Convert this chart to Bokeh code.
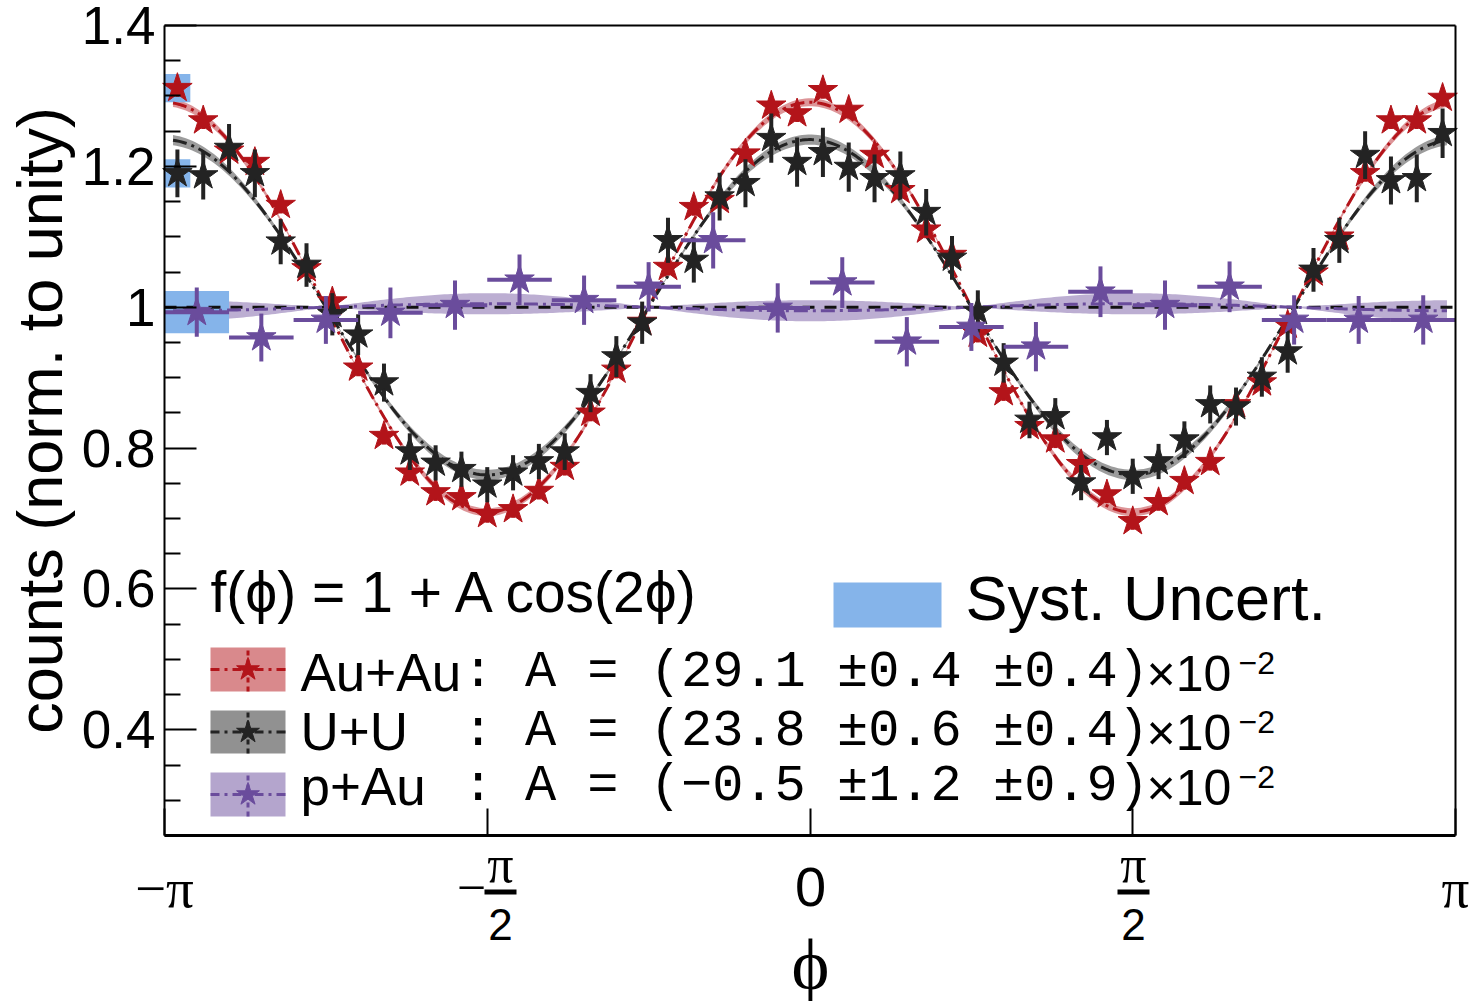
import numpy as np
from bokeh.plotting import figure
from bokeh.models import Range1d, FixedTicker, Label, BoxAnnotation, LinearAxis
from bokeh.embed import file_html
from bokeh.resources import INLINE

PI = np.pi

# ---------------- data ----------------
auau_y = [1.311, 1.265, 1.222, 1.206, 1.145, 1.055, 1.008, 0.914, 0.817, 0.765,
          0.737, 0.730, 0.706, 0.713, 0.739, 0.773, 0.850, 0.911, 0.979, 1.057,
          1.142, 1.152, 1.218, 1.286, 1.275, 1.308, 1.280, 1.216, 1.166, 1.110,
          1.074, 0.962, 0.879, 0.831, 0.812, 0.777, 0.734, 0.696, 0.723, 0.753,
          0.780, 0.862, 0.893, 0.975, 1.049, 1.100, 1.190, 1.265, 1.265, 1.297]
auau_err = [0.012] * 50
uu_y = [1.190, 1.187, 1.226, 1.190, 1.093, 1.060, 0.990, 0.961, 0.893, 0.795,
        0.779, 0.770, 0.748, 0.765, 0.781, 0.795, 0.878, 0.930, 0.978, 1.095,
        1.067, 1.157, 1.176, 1.240, 1.206, 1.220, 1.199, 1.183, 1.187, 1.135,
        1.070, 0.994, 0.921, 0.840, 0.845, 0.751, 0.815, 0.760, 0.781, 0.812,
        0.862, 0.859, 0.901, 0.937, 1.053, 1.095, 1.216, 1.180, 1.183, 1.247]
uu_err = [0.034, 0.034, 0.034, 0.034, 0.032, 0.031, 0.030, 0.029, 0.027, 0.026,
          0.025, 0.025, 0.025, 0.025, 0.025, 0.026, 0.027, 0.029, 0.030, 0.032,
          0.032, 0.034, 0.034, 0.035, 0.035, 0.035, 0.035, 0.034, 0.034, 0.033,
          0.031, 0.030, 0.028, 0.026, 0.026, 0.025, 0.025, 0.025, 0.025, 0.026,
          0.027, 0.027, 0.028, 0.030, 0.031, 0.032, 0.034, 0.034, 0.034, 0.035]
pau_y = [0.993, 0.957, 0.982, 0.992, 1.003, 1.039, 1.010, 1.029, 1.095, 0.999,
         1.035, 0.951, 0.972, 0.944, 1.022, 1.003, 1.029, 0.982, 0.982, 0.982]
pau_err = [0.035, 0.034, 0.034, 0.036, 0.035, 0.036, 0.035, 0.035, 0.040, 0.035,
           0.036, 0.035, 0.034, 0.035, 0.036, 0.035, 0.036, 0.035, 0.034, 0.035]

series_names = ["Au+Au", "U+U", "p+Au"]
fit_A = [0.291, 0.238, -0.005]
fit_stat = [0.004, 0.006, 0.012]
fit_syst = [0.004, 0.004, 0.009]
syst_first = [0.02, 0.02, 0.03]      # systematic box drawn on the first bin

Y_LO, Y_HI = 0.25, 1.4
y_ticks = [0.4, 0.6, 0.8, 1.0, 1.2, 1.4]
y_tick_labels = ["0.4", "0.6", "0.8", "1", "1.2", "1.4"]
y_minor = [0.25, 0.3, 0.35, 0.45, 0.5, 0.55, 0.65, 0.7, 0.75, 0.85, 0.9, 0.95,
           1.05, 1.1, 1.15, 1.25, 1.3, 1.35]
x_ticks = [-PI, -PI / 2, 0.0, PI / 2, PI]

# binning
edges50 = np.linspace(-PI, PI, 51)
x50 = 0.5 * (edges50[:-1] + edges50[1:])
hw50 = 0.5 * (edges50[1] - edges50[0])
edges20 = np.linspace(-PI, PI, 21)
x20 = 0.5 * (edges20[:-1] + edges20[1:])
hw20 = 0.5 * (edges20[1] - edges20[0])

COLORS = ["#b3141a", "#232323", "#6a4c9c"]
SYST_COLOR = "#85b4ea"

# page-pixel helpers for annotation placement (plot box: x 164..1455, y 25..835)
PX_PER_X = 1291 / (2 * PI)
PX_PER_Y = 810 / (Y_HI - Y_LO)

def xd(px):
    return -PI + (px - 164) / PX_PER_X

def yd(py):
    return Y_HI - (py - 25) / PX_PER_Y

W, H = 1470, 1001
# the frame covers the whole canvas; every axis is pinned to the data box
p = figure(width=W, height=H,
           x_range=Range1d(xd(0), xd(W)), y_range=Range1d(yd(H), yd(0)),
           output_backend="svg", toolbar_location=None,
           min_border_left=0, min_border_right=0, min_border_top=0, min_border_bottom=0,
           x_axis_location=None, y_axis_location=None)
p.xgrid.visible = False
p.ygrid.visible = False
p.outline_line_color = None
p.background_fill_color = "white"
p.border_fill_color = "white"

# left y axis
ya = LinearAxis(fixed_location=-PI, bounds=(Y_LO, Y_HI))
ya.ticker = FixedTicker(ticks=y_ticks, minor_ticks=y_minor)
ya.major_label_overrides = {t: s for t, s in zip(y_ticks, y_tick_labels)}
ya.major_tick_in = 32
ya.major_tick_out = 0
ya.minor_tick_in = 16
ya.minor_tick_out = 0
ya.axis_line_width = 2
ya.major_tick_line_width = 2
ya.minor_tick_line_width = 2
ya.major_label_text_font = "Liberation Sans"
ya.major_label_text_font_size = "53px"
ya.major_label_text_color = "black"
ya.major_label_standoff = 9
p.add_layout(ya, "left")

# bottom x axis (tick marks only; the pi labels are drawn below)
xa = LinearAxis(fixed_location=Y_LO, bounds=(-PI, PI))
xa.ticker = FixedTicker(ticks=[], minor_ticks=x_ticks)
xa.minor_tick_in = 27
xa.minor_tick_out = 0
xa.axis_line_width = 3
xa.minor_tick_line_width = 2
xa.minor_tick_line_color = "black"
p.add_layout(xa, "below")

# right and top edges of the box
ra = LinearAxis(fixed_location=PI, bounds=(Y_LO, Y_HI), ticker=FixedTicker(ticks=[]),
                major_tick_out=0, major_tick_in=0, minor_tick_out=0, minor_tick_in=0,
                axis_line_width=2)
p.add_layout(ra, "right")
ta = LinearAxis(fixed_location=Y_HI, bounds=(-PI, PI), ticker=FixedTicker(ticks=[]),
                major_tick_out=0, major_tick_in=0, minor_tick_out=0, minor_tick_in=0,
                axis_line_width=2)
p.add_layout(ta, "above")

# ---------------- fit bands ----------------
phi_fit = np.linspace(-3.10, 3.10, 400)
for A, st, sy, col in zip(fit_A, fit_stat, fit_syst, COLORS):
    s = np.sqrt(st ** 2 + sy ** 2)
    lo = 1 + (A - s) * np.cos(2 * phi_fit)
    hi = 1 + (A + s) * np.cos(2 * phi_fit)
    p.varea(x=phi_fit, y1=lo, y2=hi, fill_color=col, fill_alpha=0.45)

# systematic boxes on first bin
firsts = [(x50[0], hw50, auau_y[0]), (x50[0], hw50, uu_y[0]), (x20[0], hw20, pau_y[0])]
for (xc, hw, yc), sy in zip(firsts, syst_first):
    p.quad(left=[xc - hw], right=[xc + hw], bottom=[yc - sy], top=[yc + sy],
           fill_color=SYST_COLOR, line_color=None)

p.line([-PI, PI], [1.0, 1.0], line_color="#111111", line_dash="12 10", line_width=3)

for A, col in zip(fit_A, COLORS):
    p.line(phi_fit, 1 + A * np.cos(2 * phi_fit), line_color=col, line_width=3,
           line_dash="14 5 3 5")

# ---------------- data points ----------------
def draw_series(xs, hw, ys, errs, col, horiz):
    ys = np.array(ys)
    errs = np.array(errs)
    p.segment(x0=xs, y0=ys - errs, x1=xs, y1=ys + errs, line_color=col, line_width=4)
    if horiz:
        p.segment(x0=xs - hw, y0=ys, x1=xs + hw, y1=ys, line_color=col, line_width=4)
    p.scatter(xs, ys, marker="star", size=31, fill_color=col, line_color=col)

draw_series(x50, hw50, auau_y, auau_err, COLORS[0], False)
draw_series(x50, hw50, uu_y, uu_err, COLORS[1], False)
draw_series(x20, hw20, pau_y, pau_err, COLORS[2], True)

# ---------------- texts ----------------
def lab(px, base_py, text, font="Liberation Sans", size=50, align="left",
        color="black", angle=0.0, shift=0.36):
    # base_py: wanted baseline (page px); the label anchor sits about shift*size above it
    p.add_layout(Label(x=xd(px), y=yd(base_py - shift * size), text=text, text_font=font,
                       text_font_size=f"{size}px", text_align=align,
                       text_baseline="alphabetic", text_color=color, angle=angle))

lab(210, 612, "f(\u03d5) = 1 + A cos(2\u03d5)", size=57)
p.quad(left=[xd(833)], right=[xd(941)], bottom=[yd(627)], top=[yd(582)],
       fill_color=SYST_COLOR, line_color=None)
lab(965, 620, "Syst. Uncert.", size=63)

row_top = [647, 710, 772]
row_bot = [691, 753, 816]
row_base = [691, 750, 805]
for i in range(3):
    col = COLORS[i]
    yc = yd(0.5 * (row_top[i] + row_bot[i]))
    p.quad(left=[xd(210)], right=[xd(285)], bottom=[yd(row_bot[i])], top=[yd(row_top[i])],
           fill_color=col, fill_alpha=0.5, line_color=None)
    p.line([xd(210), xd(285)], [yc, yc], line_color=col, line_width=3, line_dash="9 5 3 5")
    p.segment(x0=[xd(247.5)], y0=[yd(row_bot[i])], x1=[xd(247.5)], y1=[yd(row_top[i])],
              line_color=col, line_width=3, line_dash="5 4")
    p.scatter([xd(247.5)], [yc], marker="star", size=24, fill_color=col, line_color=col)
    lab(300, row_base[i], series_names[i], size=53)
    a = fit_A[i] * 100
    a_txt = f"{a:.1f}".replace("-", "\u2212")
    mono = f": A = ({a_txt} \u00b1{fit_stat[i]*100:.1f} \u00b1{fit_syst[i]*100:.1f})"
    lab(462, row_base[i], mono, font="Liberation Mono", size=52)
    lab(1146, row_base[i], "\u00d710", size=50)
    lab(1238, row_base[i] - 17, "\u22122", size=32)

# x tick labels (pi fractions)
lab(164, 908, "\u2212\u03c0", font="Liberation Serif", size=55, align="center")
lab(1455, 908, "\u03c0", font="Liberation Serif", size=55, align="center")
lab(810, 907, "0", size=56, align="center")
for cx, minus in [(500, True), (1133, False)]:
    lab(cx, 883, "\u03c0", font="Liberation Serif", size=52, align="center")
    lab(cx, 940, "2", size=44, align="center")
    p.add_layout(BoxAnnotation(left=xd(cx - 16), right=xd(cx + 16), bottom=yd(894), top=yd(889),
                               fill_color="black", fill_alpha=1.0, line_color=None))
    if minus:
        lab(471, 906, "\u2212", font="Liberation Serif", size=52, align="center")

# axis titles
lab(810, 990, "\u03d5", font="Liberation Serif", size=72, align="center")
lab(39, 420, "counts (norm. to unity)", size=63, align="center", angle=PI / 2, shift=0.0)

open("out.html", "w").write(file_html(p, INLINE))
